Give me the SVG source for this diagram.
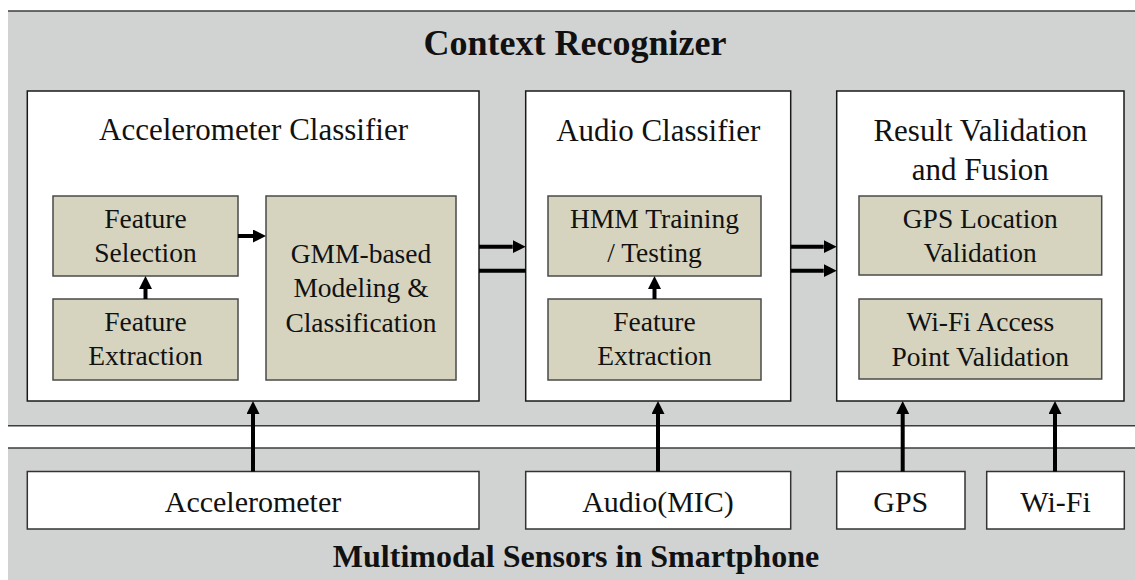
<svg xmlns="http://www.w3.org/2000/svg" width="1135" height="580" viewBox="0 0 1135 580">
<defs>
<style>
.bg{fill:#d1d3d2;stroke:none}
.sep{stroke:#3c3c3c;stroke-width:1.5;fill:none}
.box{fill:#ffffff;stroke:#1a1a1a;stroke-width:1.5}
.inner{fill:#d6d4bf;stroke:#4a4a4a;stroke-width:1.5}
.sensor{fill:#ffffff;stroke:#333333;stroke-width:1.5}
text{font-family:"Liberation Serif","Times New Roman",serif;fill:#111;text-anchor:middle}
.h1{font-size:36px;font-weight:bold}
.h2{font-size:32px;font-weight:bold}
.t{font-size:31px}
.i{font-size:27.5px}
.s{font-size:30px}
.arr{stroke:#000;stroke-width:4;fill:none}
</style>
<marker id="ah" markerUnits="userSpaceOnUse" markerWidth="14" markerHeight="14" refX="0" refY="6.5" orient="auto" viewBox="0 0 14 14">
<path d="M0,0 L13,6.5 L0,13 Z" fill="#000"/>
</marker>
</defs>

<g id="background">
<rect class="bg" x="8" y="11" width="1127" height="415"/>
<rect class="bg" x="8" y="448" width="1127" height="132"/>
<line class="sep" x1="8" y1="11" x2="1135" y2="11"/>
<line class="sep" x1="8" y1="425.7" x2="1135" y2="425.7"/>
<line class="sep" x1="8" y1="448" x2="1135" y2="448"/>
<text class="h1" x="575" y="55">Context Recognizer</text>
<text class="h2" x="576" y="567">Multimodal Sensors in Smartphone</text>
</g>

<g id="accelerometer-classifier">
<rect class="box" x="27.3" y="91" width="451.7" height="310"/>
<text class="t" x="253.5" y="140">Accelerometer  Classifier</text>
</g>
<g id="feature-selection">
<rect class="inner" x="53" y="196" width="185" height="80"/>
<text class="i" x="145.5" y="228">Feature</text>
<text class="i" x="145.5" y="262">Selection</text>
</g>
<g id="feature-extraction-acc">
<rect class="inner" x="53" y="299" width="185" height="81"/>
<text class="i" x="145.5" y="331">Feature</text>
<text class="i" x="145.5" y="365">Extraction</text>
</g>
<g id="gmm">
<rect class="inner" x="266" y="196" width="190" height="184"/>
<text class="i" x="361" y="262.7">GMM-based</text>
<text class="i" x="361" y="297">Modeling  &amp;</text>
<text class="i" x="361" y="331.7">Classification</text>
</g>

<g id="audio-classifier">
<rect class="box" x="525.7" y="91" width="265" height="310"/>
<text class="t" x="658.2" y="140.7">Audio Classifier</text>
</g>
<g id="hmm">
<rect class="inner" x="548" y="196" width="213" height="80"/>
<text class="i" x="654.5" y="227.7">HMM Training</text>
<text class="i" x="654.5" y="261.7">/ Testing</text>
</g>
<g id="feature-extraction-audio">
<rect class="inner" x="548" y="299" width="213" height="81"/>
<text class="i" x="654.5" y="331">Feature</text>
<text class="i" x="654.5" y="365">Extraction</text>
</g>

<g id="result-validation">
<rect class="box" x="836.7" y="91" width="287.3" height="310"/>
<text class="t" x="980.3" y="141">Result Validation</text>
<text class="t" x="980.3" y="180">and Fusion</text>
</g>
<g id="gps-validation">
<rect class="inner" x="859" y="196" width="242.7" height="79"/>
<text class="i" x="980.3" y="227.7">GPS Location</text>
<text class="i" x="980.3" y="261.7">Validation</text>
</g>
<g id="wifi-validation">
<rect class="inner" x="859" y="299" width="242.7" height="80"/>
<text class="i" x="980.3" y="330.7">Wi-Fi Access</text>
<text class="i" x="980.3" y="365.7">Point Validation</text>
</g>

<g id="sensor-accelerometer">
<rect class="sensor" x="27.3" y="471.5" width="451.7" height="57.5"/>
<text class="s" x="253" y="511.7">Accelerometer</text>
</g>
<g id="sensor-audio">
<rect class="sensor" x="525.7" y="471.5" width="265" height="57.5"/>
<text class="s" x="658" y="511.7">Audio(MIC)</text>
</g>
<g id="sensor-gps">
<rect class="sensor" x="836.7" y="471.5" width="128.3" height="57.5"/>
<text class="s" x="900.8" y="511.7">GPS</text>
</g>
<g id="sensor-wifi">
<rect class="sensor" x="986.7" y="471.5" width="137.6" height="57.5"/>
<text class="s" x="1055.5" y="511.7">Wi-Fi</text>
</g>

<g id="connectors">
<line class="arr" x1="145.5" y1="299" x2="145.5" y2="289" marker-end="url(#ah)"/>
<line class="arr" x1="238" y1="236" x2="253" y2="236" marker-end="url(#ah)"/>
<line class="arr" x1="479" y1="246.7" x2="512.7" y2="246.7" marker-end="url(#ah)"/>
<line class="arr" x1="479" y1="270.7" x2="525.7" y2="270.7"/>
<line class="arr" x1="654.5" y1="299" x2="654.5" y2="289" marker-end="url(#ah)"/>
<line class="arr" x1="790.7" y1="246.7" x2="823.7" y2="246.7" marker-end="url(#ah)"/>
<line class="arr" x1="790.7" y1="270.7" x2="823.7" y2="270.7" marker-end="url(#ah)"/>
<line class="arr" x1="253" y1="471.5" x2="253" y2="414" marker-end="url(#ah)"/>
<line class="arr" x1="658" y1="471.5" x2="658" y2="414" marker-end="url(#ah)"/>
<line class="arr" x1="902.7" y1="471.5" x2="902.7" y2="414" marker-end="url(#ah)"/>
<line class="arr" x1="1055" y1="471.5" x2="1055" y2="414" marker-end="url(#ah)"/>
</g>
</svg>
